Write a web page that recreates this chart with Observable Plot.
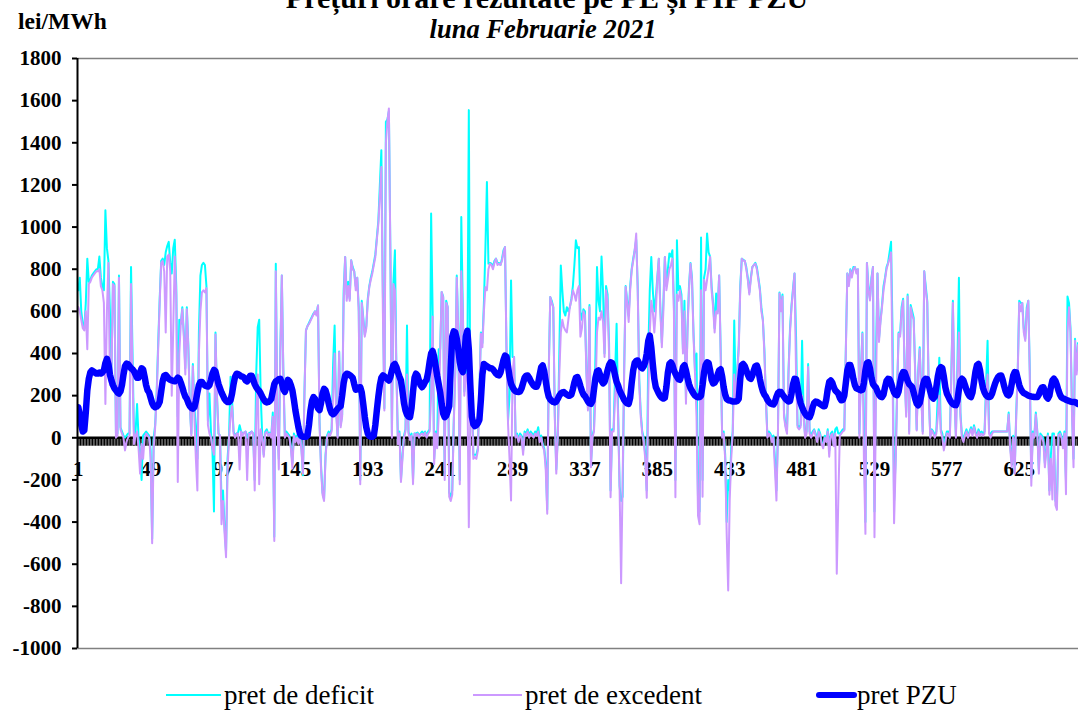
<!DOCTYPE html>
<html>
<head>
<meta charset="utf-8">
<script src="https://cdn.jsdelivr.net/npm/d3@7"></script>
<script src="https://cdn.jsdelivr.net/npm/@observablehq/plot@0.6"></script>
<style>
  html, body { margin: 0; padding: 0; background: #fff; }
  #wrap { position: relative; width: 1078px; height: 711px; overflow: hidden; font-family: "Liberation Serif", "Times New Roman", serif; color: #000; background: #fff; }
  .t { position: absolute; white-space: nowrap; line-height: 0; z-index: 2; }
  #chart { position: absolute; left: 0; top: 36px; z-index: 1; }
  .leg { position: absolute; top: 695px; line-height: 0; white-space: nowrap; font-size: 27px; z-index: 2; }
  .sw { position: absolute; z-index: 2; }
</style>
</head>
<body>
<div id="wrap">
  <div class="t" style="left:547px; top:-2px; transform:translateX(-50%); font-size:30px; font-weight:bold;">Prețuri orare rezultate pe PE și PIP PZU</div>
  <div class="t" style="left:543px; top:29px; transform:translateX(-50%); font-size:26.5px; font-weight:bold; font-style:italic;">luna Februarie 2021</div>
  <div class="t" style="left:18px; top:21px; font-size:23.5px; font-weight:bold;">lei/MWh</div>
  <div id="chart"></div>
  <svg class="sw" width="1078" height="711" style="left:0;top:0;pointer-events:none;" id="legsw"></svg>
  <div class="leg" style="left:224px;">pret de deficit</div>
  <div class="leg" style="left:525px;">pret de excedent</div>
  <div class="leg" style="left:857px;">pret PZU</div>
</div>
<script>
// ---- categories / tick labels ----
const seriesNames = ["pret de deficit", "pret de excedent", "pret PZU"];
const seriesColors = ["#00FFFF", "#CC99FF", "#0000FF"];
const xTickLabels = [1, 49, 97, 145, 193, 241, 289, 337, 385, 433, 481, 529, 577, 625];
const yTicks = [-1000, -800, -600, -400, -200, 0, 200, 400, 600, 800, 1000, 1200, 1400, 1600, 1800];

// ---- pret de deficit (lei/MWh), hours 1..672, 24 per row = one day ----
const deficit = [
700,760,600,540,520,640,850,740,750,770,780,790,800,800,860,760,720,700,1080,900,840,600,300,740,
730,20,20,770,50,30,10,0,10,20,20,810,400,0,30,160,0,-60,-200,10,20,30,20,10,
-60,-480,0,60,220,450,660,840,850,820,880,910,930,830,780,900,940,720,100,560,540,620,500,330,
620,440,150,20,350,150,50,-100,500,770,820,830,820,720,80,210,30,-60,-350,500,200,20,10,-300,
-250,-420,-540,-100,10,290,180,30,10,20,25,60,30,20,25,30,0,20,25,30,20,-200,300,525,
560,200,10,-80,30,40,20,25,10,120,-470,826,110,-100,420,770,320,10,30,20,10,-40,-120,20,
0,10,-20,20,-40,-178,220,510,530,545,560,575,590,600,590,628,80,-130,-260,-290,-80,10,30,20,
40,350,533,140,10,410,60,110,700,858,680,740,660,842,810,790,720,760,620,-200,650,570,490,530,
660,720,760,790,830,870,950,1030,1200,1365,700,140,1500,1510,1550,870,20,740,890,320,-20,30,-200,-80,
10,40,533,30,0,20,-200,20,20,25,10,20,30,20,30,10,30,40,1064,600,-100,30,-40,420,
420,692,670,-180,650,620,-260,-280,-250,80,320,770,520,-200,1048,620,220,320,320,1555,120,220,-80,-80,
-80,-50,220,500,450,640,900,1214,826,830,826,810,840,850,830,830,820,850,890,905,420,80,200,747,
383,383,10,20,-10,20,10,-60,30,20,40,10,30,20,10,30,20,50,0,10,-30,-50,-120,-340,
320,668,650,620,120,-150,10,400,818,700,600,580,620,600,620,660,720,820,937,900,905,600,560,610,
600,320,140,630,-120,10,40,400,810,650,600,860,700,400,720,680,450,-250,40,40,300,541,120,-230,
-300,-280,320,720,650,580,720,800,850,890,940,720,280,120,30,0,-80,-250,400,700,858,700,600,668,
760,850,620,450,640,858,720,800,875,860,890,650,-200,937,700,720,680,420,650,180,520,720,830,760,
500,320,400,-300,-350,950,-200,760,800,970,880,860,720,640,520,685,600,770,420,10,30,-80,-400,-200,
-250,-50,30,557,200,320,440,720,850,845,840,810,760,690,760,810,820,830,810,760,710,620,560,420,
190,10,30,20,0,10,-100,-250,30,690,620,680,120,60,30,320,520,630,710,780,480,60,50,60,
460,120,10,30,350,30,10,30,40,20,-10,40,20,-20,-40,10,-10,40,-60,20,30,-30,40,50,
20,20,30,40,40,420,780,730,800,770,810,810,790,800,20,320,500,100,-400,830,720,660,760,810,
-350,400,780,470,560,630,720,760,810,830,880,930,500,-300,-100,220,500,490,620,660,320,120,680,30,
630,600,570,320,40,320,430,220,30,790,720,650,220,10,40,30,10,30,200,380,40,20,-40,0,
30,30,10,320,650,220,10,350,760,120,10,0,20,40,10,30,50,20,60,30,10,40,20,30,
20,30,250,460,30,10,30,30,30,30,30,30,30,30,30,30,30,120,-30,-120,10,-150,120,320,
650,640,640,520,470,620,650,320,-190,30,10,120,30,-150,20,10,0,-120,-40,20,-250,-80,20,20,
-300,-300,20,30,10,-30,30,-200,670,640,520,130,-100,470,320,450,210,60,30,40,20,10,30,40
];

// ---- pret de excedent (lei/MWh) ----
const excedent = [
620,600,560,520,510,600,420,730,740,760,770,780,790,790,800,720,700,640,160,600,830,250,300,730,
720,0,10,760,40,20,0,-60,-20,0,10,730,300,-30,10,30,-50,-170,-30,-100,0,20,10,0,
-100,-500,-50,50,200,420,640,830,840,790,500,860,870,790,200,520,860,680,-210,400,540,610,480,300,
610,420,150,10,340,100,-100,-250,400,600,690,700,690,710,60,20,0,-50,-80,490,190,20,10,-410,
-300,-450,-567,-150,0,100,150,20,0,20,20,-150,30,10,25,30,-200,20,15,30,20,-250,100,300,
-220,40,0,-90,20,30,10,20,0,100,-490,790,100,-150,400,770,300,0,20,10,0,-50,-146,10,
-20,0,-30,10,-60,-170,200,510,530,540,555,570,585,600,580,628,66,-150,-270,-300,-90,0,20,10,
30,200,400,120,0,406,50,100,650,858,650,720,650,842,800,790,700,760,600,-220,640,560,480,520,
650,715,750,780,820,858,940,1015,1150,1285,600,130,1400,1500,1563,858,0,730,700,300,-30,20,-210,-100,
0,30,300,20,-10,10,-220,20,10,20,0,15,20,10,25,0,20,30,200,575,-125,20,-50,100,
400,692,665,-200,640,620,-280,-300,-270,60,300,760,500,-220,790,600,200,300,300,-425,100,200,-100,-92,
-100,-60,200,494,430,600,715,700,800,826,820,800,830,850,820,826,820,840,880,905,400,66,-100,-298,
300,383,0,10,-20,10,0,-80,20,10,30,0,20,10,0,20,10,30,-20,0,-40,-60,-150,-360,
300,668,640,620,100,-170,0,300,500,560,525,510,500,560,620,650,700,680,650,700,720,480,520,600,
580,300,130,620,-140,0,30,200,500,570,560,600,550,383,700,650,400,-282,30,30,200,300,100,-250,
-690,-200,300,716,640,550,700,795,840,890,969,700,256,100,20,-20,-100,-285,200,500,650,600,500,600,
750,850,600,430,600,858,700,750,800,820,850,600,-282,680,650,700,650,400,600,162,500,700,826,747,
480,300,100,-370,-410,700,-280,750,700,750,800,858,700,620,500,600,590,770,400,0,20,-100,-456,-725,
-298,-100,19,300,177,300,420,700,850,840,840,800,750,680,750,810,820,826,800,750,700,600,557,400,
177,0,20,10,-20,0,-150,-298,19,685,600,670,100,50,19,300,500,620,700,780,300,50,40,50,
200,100,0,19,336,20,0,20,35,10,-20,30,10,-30,-50,0,-20,30,-90,10,19,-40,20,-645,
-300,10,20,30,35,400,780,720,795,760,800,810,780,800,0,300,494,-100,-456,830,700,652,750,810,
-472,200,780,455,550,620,700,750,800,826,850,880,300,-406,-140,200,494,480,600,652,300,100,670,19,
620,580,560,300,35,300,420,200,19,790,700,640,200,0,35,20,0,20,100,200,30,0,-60,-20,
20,19,0,300,640,200,0,300,500,100,0,-20,10,30,0,20,40,10,50,20,0,30,10,20,
10,20,200,300,20,0,20,30,30,30,30,30,30,30,30,30,30,110,-50,-140,0,-170,100,300,
640,600,640,500,460,600,650,300,-228,20,0,110,20,-170,10,0,-20,-140,-60,10,-270,-100,-293,10,
-320,-342,10,19,0,-50,20,-268,500,620,500,110,-140,460,300,440,200,50,20,30,10,0,20,30
];

// ---- pret PZU (lei/MWh) ----
const pzu = [
145,110,60,30,35,120,225,280,310,320,315,310,305,305,310,305,310,320,355,375,350,300,272,250,
235,225,215,210,220,250,300,340,352,350,340,330,325,315,300,285,285,310,330,325,290,250,225,215,
190,165,150,145,148,155,170,220,270,295,298,290,280,275,272,270,268,275,285,280,262,240,215,195,
185,165,150,142,138,145,175,215,250,265,265,255,248,245,243,250,275,305,322,315,285,255,235,215,
200,185,175,170,170,178,210,255,290,304,302,298,292,290,285,272,268,280,295,295,275,255,240,230,
222,210,195,182,172,168,170,175,185,220,255,268,272,278,280,260,230,218,240,275,268,250,225,180,
130,90,50,20,8,5,5,5,10,60,130,175,193,185,160,140,132,165,210,232,225,200,165,135,
118,112,118,128,138,145,150,200,260,295,304,302,298,292,285,255,228,230,238,240,215,160,100,50,
20,8,5,5,10,60,130,195,250,285,296,292,285,278,272,290,320,345,350,335,310,290,272,220,
165,130,110,100,98,140,220,285,304,295,270,250,240,250,265,275,310,360,400,412,385,340,295,256,
215,160,115,98,105,125,150,330,480,505,500,470,420,360,325,312,390,480,508,420,250,100,65,55,
60,70,85,180,300,350,345,340,335,330,330,325,315,305,298,296,310,340,370,390,385,340,290,256,
240,228,220,218,217,220,235,260,285,295,296,285,270,258,248,242,242,260,300,335,343,315,270,225,
195,182,175,170,168,172,185,200,210,215,217,210,205,200,200,205,230,262,285,288,270,245,222,205,
198,185,172,164,161,175,230,285,315,320,300,270,258,265,290,320,345,358,355,330,295,265,248,225,
210,195,180,170,163,161,190,260,320,355,365,367,350,335,330,340,360,400,460,485,430,350,280,240,
225,210,198,190,186,190,240,310,350,358,345,320,304,290,278,275,300,335,345,320,285,255,235,222,
210,200,195,192,193,200,250,310,345,358,355,320,275,258,262,275,300,320,325,290,240,205,185,178,
177,175,172,172,172,175,185,280,345,350,340,320,300,285,280,295,320,340,343,320,280,245,220,205,
195,180,170,163,160,158,170,195,212,218,217,205,195,185,178,172,175,210,255,280,278,240,195,165,
145,128,115,105,100,98,115,145,165,172,170,165,160,155,150,150,180,230,265,272,262,240,225,218,
210,190,178,180,200,260,320,345,345,320,280,250,235,232,228,225,228,260,320,355,358,330,285,255,
245,238,220,205,195,193,205,240,270,280,278,260,235,215,205,202,220,260,295,312,310,290,270,255,
248,240,215,185,162,154,165,200,245,272,280,278,250,220,195,186,195,240,290,325,335,330,290,240,
210,195,180,168,160,156,155,175,230,270,280,272,250,228,210,198,193,215,265,315,345,350,320,270,
235,215,202,195,193,195,210,235,258,275,288,295,296,275,245,220,205,201,215,255,295,312,310,280,
250,232,220,212,209,205,200,198,196,195,194,193,193,205,225,238,240,220,195,186,200,240,272,280,
270,250,225,205,192,187,185,180,178,175,172,170,170,170,165,160,160,155,150,145,140,140,138,135
];

const hours = Array.from({length: pzu.length}, (_, i) => i + 1);
const rows = hours.map((h, i) => ({h, deficit: deficit[i], excedent: excedent[i], pzu: pzu[i]}));

const font = "'Liberation Serif', 'Times New Roman', serif";

const chart = Plot.plot({
  width: 1078,
  height: 642,
  marginLeft: 77,
  marginRight: 0,
  marginTop: 22,
  marginBottom: 30,
  x: {type: "linear", domain: [0.5, 664.3], axis: null},
  y: {domain: [d3.min(yTicks), d3.max(yTicks)], axis: null},
  style: {fontFamily: font, background: "none", color: "black", overflow: "hidden"},
  marks: [
    Plot.ruleY([d3.max(yTicks), d3.min(yTicks)], {stroke: "#808080", strokeWidth: 1.5}),
    Plot.ruleX(hours, {x: d => d + 0.5, y1: 0, y2: -40, stroke: "black", strokeWidth: 1.25, clip: true}),
    Plot.ruleY([0], {stroke: "black", strokeWidth: 2.5}),
    Plot.text(xTickLabels, {x: d => d, y: 0, text: d => String(d), dy: 31, fontSize: 21, fontWeight: "bold", fill: "black"}),
    Plot.line(rows, {x: "h", y: "deficit", stroke: seriesColors[0], strokeWidth: 2, clip: true}),
    Plot.line(rows, {x: "h", y: "excedent", stroke: seriesColors[1], strokeWidth: 2, clip: true}),
    Plot.line(rows, {x: "h", y: "pzu", stroke: seriesColors[2], strokeWidth: 6.5, strokeLinejoin: "round", strokeLinecap: "round", clip: true}),
    Plot.axisY({ticks: yTicks, tickFormat: d => String(d), tickSize: 5, tickPadding: 11, strokeWidth: 2, fontSize: 21, fontWeight: "bold", fill: "black", stroke: "black"}),
    Plot.ruleX([0.5], {stroke: "black", strokeWidth: 2})
  ]
});
document.getElementById("chart").appendChild(chart);

// legend swatches
const sw = d3.select("#legsw");
const swatches = [
  {x1: 166, x2: 221, w: 2},
  {x1: 473, x2: 522, w: 2},
  {x1: 819, x2: 854, w: 6}
];
swatches.forEach((s, i) => {
  sw.append("line").attr("x1", s.x1).attr("x2", s.x2).attr("y1", 695).attr("y2", 695)
    .attr("stroke", seriesColors[i]).attr("stroke-width", s.w).attr("stroke-linecap", i === 2 ? "round" : "butt");
});
</script>
</body>
</html>
